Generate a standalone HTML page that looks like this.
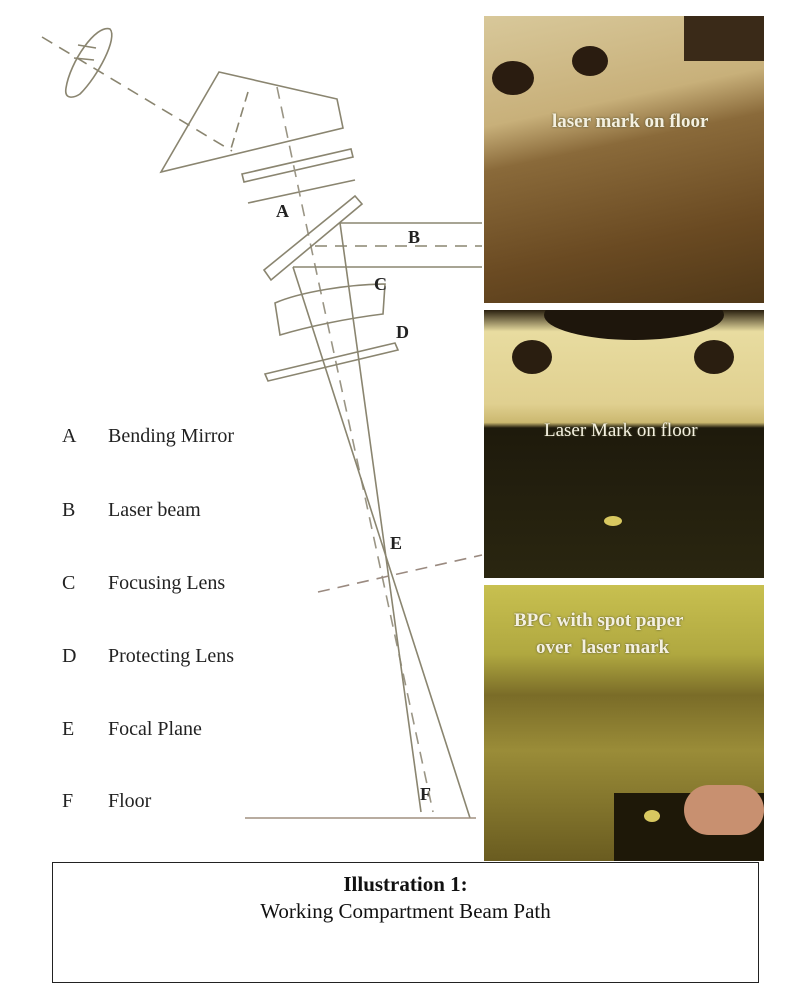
<!DOCTYPE html>
<html><head><meta charset="utf-8"><style>
body{margin:0;background:#fff;width:786px;height:998px;overflow:hidden;position:relative;font-family:"Liberation Serif",serif;}
.lbl{position:absolute;font-size:20px;color:#222;left:62px;}
.lbl span{position:absolute;left:46px;white-space:nowrap;}
.ph{position:absolute;left:484px;width:280px;overflow:hidden;}
.pt{position:absolute;color:#f4f0e0;font-weight:bold;font-size:19px;white-space:nowrap;text-shadow:0 0 2px #553;}
</style></head><body>
<svg width="786" height="998" style="position:absolute;left:0;top:0" fill="none" stroke="#8a8570" stroke-width="1.6">
<path d="M110,29 C96,24 70,62 66,88 C64,100 74,98 80,94 C98,76 118,38 110,29Z"/>
<line x1="78" y1="45" x2="96" y2="48"/>
<line x1="74" y1="58" x2="94" y2="60"/>
<line x1="42" y1="37" x2="232" y2="151" stroke-dasharray="12,8"/>
<polygon points="219,72 337,99 343,128 161,172"/>
<line x1="248" y1="92" x2="230" y2="152" stroke-dasharray="10,6"/>
<polygon points="242,174 351,149 353,157 244,182"/>
<line x1="248" y1="203" x2="355" y2="180"/>
<polyline points="277,87 302,205 433,812" stroke-dasharray="12,8" stroke="#9a9585"/>
<polygon points="264,270 355,196 362,204 271,280"/>
<line x1="340" y1="223" x2="482" y2="223"/>
<line x1="293" y1="267" x2="482" y2="267"/>
<line x1="315" y1="246" x2="482" y2="246" stroke-dasharray="12,8"/>
<line x1="293" y1="267" x2="470" y2="818"/>
<line x1="340" y1="223" x2="421" y2="812"/>
<path d="M275,303 C300,292 350,284 385,284 L383,314 C350,318 310,326 280,335Z"/>
<polygon points="265,374 395,343 398,350 268,381"/>
<line x1="318" y1="592" x2="482" y2="555" stroke-dasharray="12,8" stroke="#9a8a80"/>
<line x1="245" y1="818" x2="476" y2="818" stroke="#a09080"/>
</svg>
<div style="position:absolute;left:276px;top:201px;font-size:18px;font-weight:bold;color:#222">A</div>
<div style="position:absolute;left:408px;top:227px;font-size:18px;font-weight:bold;color:#222">B</div>
<div style="position:absolute;left:374px;top:274px;font-size:18px;font-weight:bold;color:#222">C</div>
<div style="position:absolute;left:396px;top:322px;font-size:18px;font-weight:bold;color:#222">D</div>
<div style="position:absolute;left:390px;top:533px;font-size:18px;font-weight:bold;color:#222">E</div>
<div style="position:absolute;left:420px;top:784px;font-size:18px;font-weight:bold;color:#222">F</div>
<div class="lbl" style="top:425px">A<span>Bending Mirror</span></div>
<div class="lbl" style="top:499px">B<span>Laser beam</span></div>
<div class="lbl" style="top:572px">C<span>Focusing Lens</span></div>
<div class="lbl" style="top:645px">D<span>Protecting Lens</span></div>
<div class="lbl" style="top:718px">E<span>Focal Plane</span></div>
<div class="lbl" style="top:790px">F<span>Floor</span></div>
<div class="ph" style="top:16px;height:287px;background:linear-gradient(168deg,#d8c89a 0%,#c8b07a 32%,#8a6a3a 45%,#6a4a22 75%,#503818 100%)">
<div style="position:absolute;left:200px;top:0;width:80px;height:45px;background:#3a2a18"></div>
<div style="position:absolute;left:8px;top:45px;width:42px;height:34px;border-radius:50%;background:#2a1c10"></div>
<div style="position:absolute;left:88px;top:30px;width:36px;height:30px;border-radius:50%;background:#2a1c10"></div>
<div class="pt" style="left:68px;top:95px">laser mark on floor</div></div>
<div class="ph" style="top:310px;height:268px;background:linear-gradient(180deg,#2a2010 0%,#e8dca0 8%,#e0d090 35%,#cbb870 42%,#1e1a0c 44%,#2a2610 100%)">
<div style="position:absolute;left:60px;top:-20px;width:180px;height:50px;border-radius:50%;background:#1e160c"></div>
<div style="position:absolute;left:28px;top:30px;width:40px;height:34px;border-radius:50%;background:#2a1e10"></div>
<div style="position:absolute;left:210px;top:30px;width:40px;height:34px;border-radius:50%;background:#2a1e10"></div>
<div style="position:absolute;left:120px;top:206px;width:18px;height:10px;border-radius:50%;background:#d8c860"></div>
<div class="pt" style="left:60px;top:110px;font-weight:normal">Laser Mark on floor</div></div>
<div class="ph" style="top:585px;height:276px;background:linear-gradient(180deg,#c8c050 0%,#b0a840 25%,#7a6c28 40%,#9a8c38 60%,#6a5c20 100%)">
<div style="position:absolute;left:130px;top:208px;width:150px;height:70px;background:#1e1808"></div>
<div style="position:absolute;left:160px;top:225px;width:16px;height:12px;border-radius:50%;background:#d8c860"></div>
<div style="position:absolute;left:200px;top:200px;width:80px;height:50px;border-radius:30px;background:#c89070"></div>
<div class="pt" style="left:30px;top:25px">BPC with spot paper</div>
<div class="pt" style="left:52px;top:52px">over&nbsp; laser mark</div></div>
<div style="position:absolute;left:52px;top:862px;width:705px;height:119px;border:1.5px solid #222;text-align:center;font-size:21px;color:#111">
<div style="font-weight:bold;margin-top:9px">Illustration 1:</div>
<div style="margin-top:2px">Working Compartment Beam Path</div></div>
</body></html>
